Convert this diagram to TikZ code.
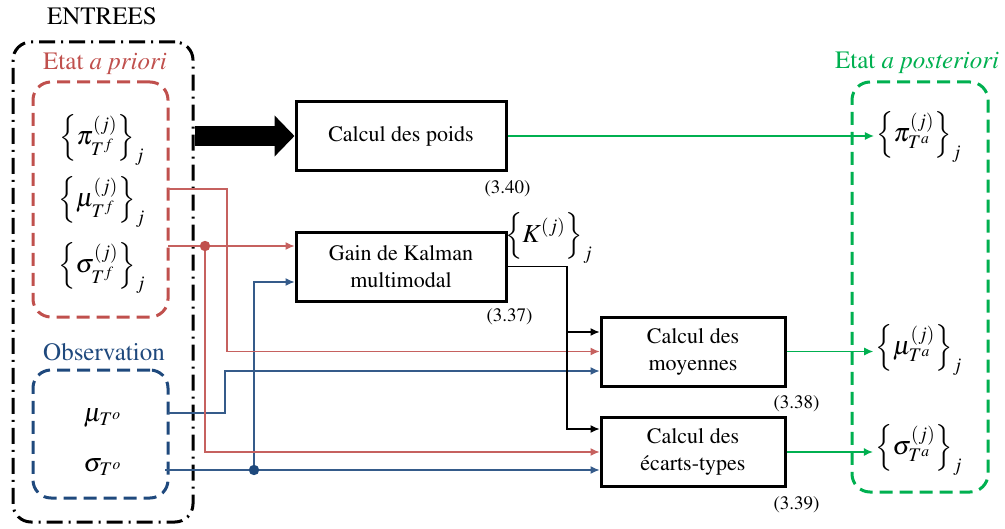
\documentclass[tikz,border=0pt]{standalone}
\usepackage[T1]{fontenc}
\usepackage{mathptmx}
\usetikzlibrary{arrows.meta}
\definecolor{priorred}{RGB}{192,80,77}
\definecolor{obsblue}{RGB}{31,73,125}
\definecolor{postgreen}{RGB}{0,176,80}
\tikzset{
  calcbox/.style={draw, line width=1.5pt, inner sep=0pt, align=center,
    minimum height=34.5pt, font=\fontsize{11}{13.5}\selectfont},
  eqref/.style={font=\fontsize{9.5}{11}\selectfont, inner sep=1pt},
  group/.style={draw, line width=1.5pt, rounded corners=9pt, minimum width=67.5pt},
  grouplbl/.style={font=\fontsize{12.5}{15}\selectfont},
  var/.style={font=\fontsize{13}{15}\selectfont, inner sep=1pt},
  link/.style={line width=0.6pt, -{Latex[length=4.5pt,width=4pt]}},
}
\begin{document}
\begin{tikzpicture}[x=0.5pt, y=-0.5pt]
  \useasboundingbox (0,0) rectangle (1005,529);

  % groups of variables
  \node[group, dash pattern=on 8pt off 3pt on 1pt off 3pt, minimum width=90pt, minimum height=240pt] (entrees) at (103,282) {};
  \node[group, priorred, dash pattern=on 6.5pt off 3.5pt, minimum height=117.5pt] (prior) at (100.5,199.5) {};
  \node[group, obsblue, dash pattern=on 6.5pt off 3.5pt, minimum height=64pt] (obs) at (100.5,434) {};
  \node[group, postgreen, dash pattern=on 6.5pt off 3.5pt, minimum width=68pt, minimum height=205pt] (post) at (920,287) {};

  \node[grouplbl] (entrees-lbl) at (102,16) {ENTREES};
  \node[grouplbl, text=priorred] (prior-lbl) at (105,64) {Etat \textit{a priori}};
  \node[grouplbl, text=obsblue] (obs-lbl) at (104,352) {Observation};
  \node[grouplbl, text=postgreen] (post-lbl) at (917,63) {Etat \textit{a posteriori}};

  % variables
  \node[var] (pif) at (102,140) {$\left\{\pi^{(j)}_{T^f}\right\}_j$};
  \node[var] (muf) at (102,202) {$\left\{\mu^{(j)}_{T^f}\right\}_j$};
  \node[var] (sigf) at (102,268) {$\left\{\sigma^{(j)}_{T^f}\right\}_j$};
  \node[var] (muo) at (103,418) {$\mu_{T^o}$};
  \node[var] (sigo) at (103,467) {$\sigma_{T^o}$};
  \node[var] (pia) at (919,137) {$\left\{\pi^{(j)}_{T^a}\right\}_j$};
  \node[var] (mua) at (919,350) {$\left\{\mu^{(j)}_{T^a}\right\}_j$};
  \node[var] (siga) at (919,450) {$\left\{\sigma^{(j)}_{T^a}\right\}_j$};
  \node[var] (kgain) at (549,238) {$\left\{K^{(j)}\right\}_j$};

  % computation blocks
  \node[calcbox, minimum width=105pt] (poids) at (401,136) {Calcul des poids};
  \node[calcbox, minimum width=105pt] (gain) at (401,266.5) {Gain de Kalman\\multimodal};
  \node[calcbox, minimum width=92pt] (moy) at (693,351.5) {Calcul des\\moyennes};
  \node[calcbox, minimum width=92pt] (ect) at (693,452) {Calcul des\\\'ecarts-types};

  \node[eqref, anchor=north] (eq40) at ([yshift=-3pt]poids.south east) {(3.40)};
  \node[eqref, anchor=north] (eq37) at ([xshift=1pt,yshift=-2pt]gain.south east) {(3.37)};
  \node[eqref, anchor=north] (eq38) at ([xshift=5pt,yshift=-3pt]moy.south east) {(3.38)};
  \node[eqref, anchor=north] (eq39) at ([xshift=5pt,yshift=-3pt]ect.south east) {(3.39)};

  % entry and exit points
  \coordinate (muf-o) at (168,189);
  \coordinate (sigf-o) at (168,246);
  \coordinate (muo-o) at (168,413);
  \coordinate (sigo-o) at (165,470);
  \coordinate (rdot) at (205,246);
  \coordinate (bdot) at (254,470);
  \coordinate (rx) at (227,0);
  \coordinate (bx) at (225,0);
  \coordinate (kx) at (567,0);
  \coordinate (gain-r) at ([yshift=10.25pt]gain.west);
  \coordinate (gain-b) at ([yshift=-7.75pt]gain.west);
  \coordinate (moy-k) at ([yshift=9.75pt]moy.west);
  \coordinate (moy-r) at (moy.west);
  \coordinate (moy-b) at ([yshift=-9.75pt]moy.west);
  \coordinate (ect-k) at ([yshift=11.5pt]ect.west);
  \coordinate (ect-r) at (ect.west);
  \coordinate (ect-b) at ([yshift=-9pt]ect.west);

  % big input arrow
  \draw[line width=10pt, -{Triangle[length=10pt,width=20pt]}] (entrees.east |- poids) -- (poids.west);

  % observation links
  \draw[link, obsblue!90] (muo-o) -| (bx |- moy-b) -- (moy-b);
  \draw[link, obsblue!90] (sigo-o) -- (ect-b);
  \draw[link, obsblue!90] (bdot) |- (gain-b);
  \fill[obsblue] (bdot) circle (2.6pt);

  % a priori links
  \draw[link, priorred!90] (muf-o) -| (rx |- moy-r) -- (moy-r);
  \draw[link, priorred!90] (sigf-o) -- (gain-r);
  \draw[link, priorred!90] (rdot) |- (ect-r);
  \fill[priorred] (rdot) circle (2.6pt);

  % Kalman gain
  \draw[link] (gain.east) -| (kx |- ect-k) -- (ect-k);
  \draw[link] (kx |- moy-k) -- (moy-k);

  % a posteriori links
  \draw[link, postgreen] (poids.east) -- (poids.east -| pia.west);
  \draw[link, postgreen] (moy.east) -- (moy.east -| mua.west);
  \draw[link, postgreen] (ect.east) -- (ect.east -| siga.west);
\end{tikzpicture}
\end{document}
